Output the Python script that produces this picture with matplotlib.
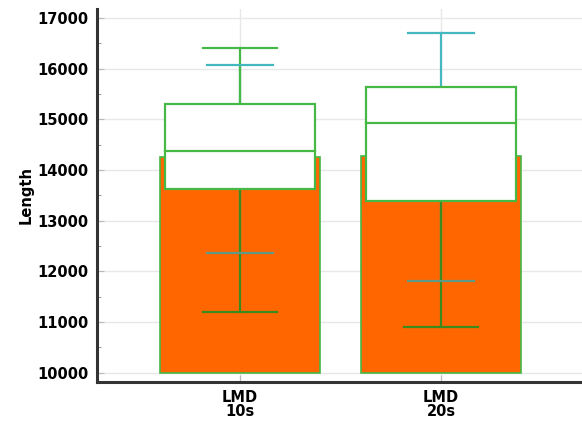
import numpy as np
import matplotlib.pyplot as plt
from matplotlib.ticker import MultipleLocator
from matplotlib import font_manager

# Data
groups = ['LMD\n10s', 'LMD\n20s']
mean_vals = [14250, 14280]
sd_hi = [16070, 16700]
sd_lo = [12360, 11810]
q1 = [13620, 13390]
median = [14380, 14930]
q3 = [15300, 15640]
whisk_hi = [16400, 15640]
whisk_lo = [11200, 10900]

names = {f.name for f in font_manager.fontManager.ttflist}
fam = 'Liberation Sans Narrow' if 'Liberation Sans Narrow' in names else 'DejaVu Sans'
plt.rcParams['font.family'] = fam

orange = '#ff6600'
green = '#45b845'
dgreen = '#3a8a1e'
cyan = '#45b8bf'
cyan_dim = '#5f9a86'

fig = plt.figure(figsize=(5.82, 4.23), dpi=100)
ax = fig.add_axes([0.1667, 0.097, 0.8333, 0.882])

x = np.arange(len(groups))
base = 10000
ax.bar(x, np.array(mean_vals) - base, bottom=base, width=0.8,
       color=orange, edgecolor=green, linewidth=1.2, zorder=2)

# mean +/- sd bars
for i in range(len(x)):
    ax.plot([x[i], x[i]], [mean_vals[i], sd_hi[i]], color=cyan, lw=1.6, zorder=3)
    ax.plot([x[i], x[i]], [mean_vals[i], sd_lo[i]], color=cyan, lw=1.6, zorder=3)
    ax.plot([x[i] - 0.165, x[i] + 0.165], [sd_hi[i], sd_hi[i]], color=cyan, lw=1.6, zorder=6)
    ax.plot([x[i] - 0.165, x[i] + 0.165], [sd_lo[i], sd_lo[i]], color=cyan_dim, lw=1.6, zorder=6)

# box and whiskers
for i in range(len(x)):
    if whisk_hi[i] > q3[i]:
        ax.plot([x[i], x[i]], [q3[i], whisk_hi[i]], color=green, lw=1.6, zorder=4)
        ax.plot([x[i] - 0.185, x[i] + 0.185], [whisk_hi[i], whisk_hi[i]], color=green, lw=1.6, zorder=4)
    ax.plot([x[i], x[i]], [whisk_lo[i], q1[i]], color=dgreen, lw=1.6, zorder=4)
    ax.plot([x[i] - 0.185, x[i] + 0.185], [whisk_lo[i], whisk_lo[i]], color=dgreen, lw=1.6, zorder=4)
    ax.add_patch(plt.Rectangle((x[i] - 0.375, q1[i]), 0.75, q3[i] - q1[i],
                               facecolor='white', edgecolor=green, lw=1.6, zorder=5))
    ax.plot([x[i] - 0.375, x[i] + 0.375], [median[i], median[i]], color=green, lw=1.6, zorder=5)

ax.set_xlim(-0.711, 1.701)
ax.set_ylim(9820, 17180)
ax.set_xticks(x)
ax.set_xticklabels(groups, fontweight='bold', fontsize=10.5, linespacing=0.9)
ax.yaxis.set_major_locator(MultipleLocator(1000))
ax.yaxis.set_minor_locator(MultipleLocator(500))
ax.set_ylabel('Length', fontweight='bold', fontsize=10.5, labelpad=3)
for lab in ax.get_yticklabels():
    lab.set_fontweight('bold')
    lab.set_fontsize(10.5)

ax.grid(True, which='major', color='#e8e8e8', lw=1.0, zorder=0)
ax.set_axisbelow(True)
ax.tick_params(axis='y', which='major', direction='in', length=5, color='#bbbbbb', pad=6)
ax.tick_params(axis='y', which='minor', direction='in', length=3, color='#888888')
ax.tick_params(axis='x', direction='in', length=5, color='#bbbbbb', pad=6)

for s in ['top', 'right']:
    ax.spines[s].set_visible(False)
for s in ['left', 'bottom']:
    ax.spines[s].set_linewidth(2.2)
    ax.spines[s].set_color('#333333')

fig.savefig('out.png', dpi=100)
